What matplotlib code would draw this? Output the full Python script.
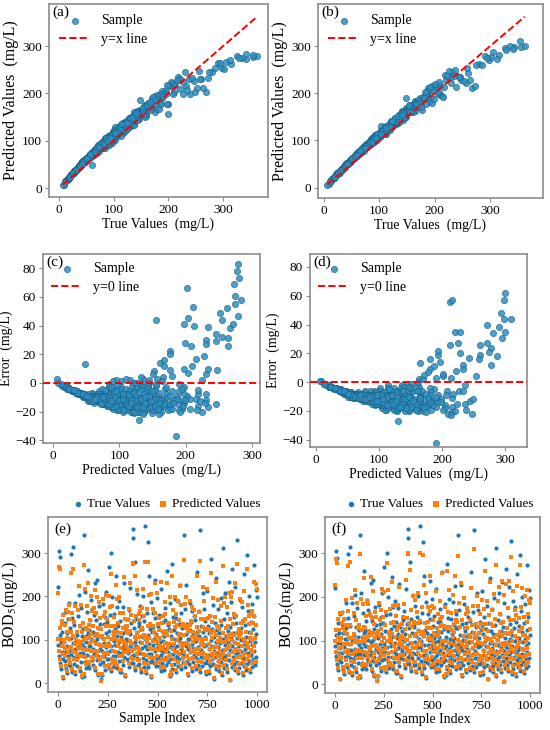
import numpy as np
import matplotlib
matplotlib.use("Agg")
import matplotlib.pyplot as plt

plt.rcParams["font.family"] = ["Liberation Serif", "DejaVu Serif"]
plt.rcParams["mathtext.fontset"] = "stix"

# true BOD5 values of the test samples (mg/L), in sample order
true_vals = [
    221, 88, 305, 64, 112, 47, 290, 95, 33, 140, 72, 118, 56, 12, 160, 84,
    94, 51, 138, 72, 165, 33, 117, 86, 23, 149, 62, 103, 185, 45, 128, 77,
    39, 104, 68, 298, 151, 27, 92, 315, 61, 134, 45, 78, 186, 22, 99, 58,
    58, 112, 40, 156, 81, 204, 66, 97, 29, 131, 70, 174, 48, 109, 14, 90,
    125, 70, 342, 17, 83, 210, 49, 108, 36, 95, 164, 66, 260, 41, 117, 87,
    123, 36, 87, 145, 60, 193, 101, 53, 170, 79, 119, 43, 158, 68, 232, 96,
    30, 146, 75, 53, 102, 239, 19, 127, 62, 90, 178, 44, 136, 80, 9, 110,
    18, 106, 75, 182, 49, 137, 92, 64, 153, 31, 115, 84, 210, 56, 141, 72,
    57, 93, 268, 35, 121, 74, 158, 28, 301, 86, 48, 199, 63, 114, 38, 97,
    99, 160, 41, 127, 88, 246, 62, 108, 35, 176, 73, 133, 52, 95, 190, 25,
    143, 69, 25, 106, 82, 52, 175, 115, 42, 230, 89, 60, 131, 16, 101, 77,
    80, 121, 57, 147, 69, 100, 168, 38, 114, 86, 219, 47, 139, 76, 91, 63,
    335, 355, 46, 128, 66, 94, 280, 31, 149, 85, 59, 118, 205, 72, 43, 138,
    132, 44, 96, 179, 70, 110, 27, 155, 82, 124, 59, 202, 104, 37, 143, 85,
    362, 100, 54, 24, 163, 79, 326, 111, 37, 91, 248, 67, 124, 50, 14, 188,
    67, 118, 52, 162, 89, 130, 46, 101, 237, 74, 150, 39, 113, 92, 196, 55,
    83, 133, 61, 105, 40, 157, 76, 96, 29, 217, 65, 120, 47, 142, 98, 71,
    108, 30, 146, 78, 173, 61, 120, 43, 93, 258, 135, 71, 50, 126, 83, 16,
    56, 184, 21, 109, 88, 275, 34, 152, 68, 123, 44, 81, 195, 58, 103, 26,
    150, 87, 64, 115, 41, 189, 98, 136, 55, 105, 226, 79, 162, 34, 128, 69,
    129, 73, 48, 341, 93, 62, 170, 37, 113, 86, 227, 51, 137, 78, 18, 102,
    45, 102, 184, 73, 122, 58, 141, 90, 28, 167, 81, 111, 49, 154, 65, 97,
    64, 145, 32, 97, 256, 55, 119, 84, 42, 166, 70, 108, 27, 354, 90, 60,
    76, 131, 39, 93, 208, 60, 118, 85, 171, 47, 107, 143, 22, 88, 125, 54,
    213, 46, 132, 79, 23, 115, 66, 154, 39, 99, 286, 57, 126, 87, 45, 180,
    74, 11, 107, 61, 140, 33, 94, 243, 69, 122, 52, 172, 84, 28, 116, 41,
    92, 65, 197, 48, 135, 77, 19, 312, 101, 58, 148, 35, 89, 208, 63, 110,
    43, 161, 82, 27, 121, 68, 95, 234, 54, 130, 7, 76, 187, 105, 38, 85,
    264, 60, 117, 44, 96, 153, 30, 80, 222, 67, 138, 50, 104, 329, 73, 24,
    112, 87, 36, 191, 63, 128, 47, 99, 176, 71, 20, 143, 56, 252, 91, 40,
    79, 134, 59, 106, 31, 295, 83, 45, 167, 69, 119, 200, 52, 97, 26, 141,
    66, 103, 183, 38, 88, 57, 124, 272, 74, 155, 42, 94, 215, 61, 113, 198,
]

# error = true - predicted, model of panels (a)/(c)/(e)
err_a = [
    12, -13, 38, -11, -16, -9, 26, -8, -7, -4, -14, -19, -12, -2, 3, -10,
    -5, -13, 3, -9, -4, -8, -2, -18, -6, -15, -11, 1, 5, -12, -21, -7,
    -8, -15, -13, 44, -11, -6, -17, 52, -10, -7, -11, -12, 9, -5, -3, -14,
    -8, -7, -13, -12, -3, -20, -16, 2, -6, -1, -17, -6, -14, -10, -2, -4,
    -13, -9, 69, -4, -16, -8, -12, -20, -9, -10, -14, -11, 30, -8, -6, -18,
    -11, -10, -5, 0, -15, -9, -12, -8, 4, -19, -14, -12, -16, -7, 17, -13,
    -6, -17, -15, -10, -12, 41, -3, 0, -13, -19, -9, -10, -15, -8, 3, -14,
    -3, -4, -12, -13, -11, -17, -9, -6, -11, -8, -16, -1, 7, -13, -8, -18,
    -11, -14, 66, -7, -10, -13, -18, -6, 49, -16, -9, 22, -12, -18, -8, -11,
    -20, 8, -10, -4, -14, 19, -9, -11, -7, -18, -13, -7, -12, -2, -8, -6,
    -20, -12, -6, -9, -17, -10, 14, -13, -9, -15, -7, -11, -18, -3, -21, -14,
    -7, -12, -14, 2, -10, -15, -3, -9, -6, -11, -12, -11, -19, -16, 1, -12,
    61, 78, -10, -16, -14, -12, 34, -7, -5, -18, -9, 2, -11, -10, -11, -22,
    -14, -9, -10, 12, -4, -13, -5, -19, -11, -3, -9, -16, -7, -10, -13, -20,
    83, -10, -12, -5, -8, -15, 47, -20, -8, -13, 45, -16, -12, -10, -3, -18,
    -11, -15, -7, -10, -9, -2, -13, -17, 6, -5, -12, -8, 3, -14, -11, -9,
    -13, -3, -15, -17, -9, 6, -11, -9, -6, -17, -13, -19, -8, -14, -20, -12,
    -6, -8, -14, -15, -15, -12, 0, -11, -18, 27, -5, -10, -9, -12, -7, -3,
    -9, -14, -4, -11, -15, 29, -8, -16, -12, -18, -11, -9, -3, -13, -26, -5,
    -9, -12, -8, -19, -9, -1, -14, -10, -12, -8, 2, -13, -18, -7, -5, -15,
    -8, -16, -11, 58, -19, -10, -12, -9, -14, -6, 28, -12, 4, -13, -4, -16,
    -12, -20, -6, -11, -13, -13, -2, -16, -7, -9, -14, -8, -10, -15, -9, -4,
    -14, -11, -7, -15, 9, -13, -10, -18, -10, 1, -9, -13, -6, 73, -12, -8,
    -14, -17, -10, -7, -13, -10, -11, -3, -19, -11, -15, -6, -5, -13, 0, -12,
    -5, -12, -19, -11, -5, -7, -13, -2, -9, -16, 32, -10, -15, -17, -13, -16,
    -10, -1, -13, -9, -12, -8, -17, 10, -15, -11, -11, -20, -14, -7, -9, -10,
    -13, -10, 20, -12, -9, -19, -4, 41, -14, -9, -37, -8, -6, 10, -14, -17,
    -11, -15, -18, -6, -11, -14, -13, 26, -11, -17, 0, -12, -12, -9, -9, -15,
    53, -13, -20, -9, -15, -7, -6, -12, -8, -11, -16, -11, -13, 55, -17, -5,
    -12, -19, -8, -4, -12, -10, -13, -16, -11, -14, -4, 0, -10, 40, -11, -9,
    -16, -13, -11, -12, -7, 31, -10, -10, -14, -15, -17, 44, -11, -8, -5, -18,
    -10, -14, 16, -8, -12, -15, -14, 39, -13, -1, -9, -11, -14, 13, -22, -19,
]

# error = true - predicted, model of panels (b)/(d)/(f)
err_b = [
    -6, -10, 18, -9, -13, -8, 12, -14, -5, -9, -12, -7, -10, -1, -3, -15,
    -11, -9, -3, -14, 2, -7, -12, -6, -5, -1, -13, -17, -9, -10, -8, -16,
    -6, -11, -10, 27, -16, -4, -13, 34, -8, -2, -9, -15, -12, -3, -8, -11,
    -12, -2, -10, -7, -15, -11, -8, -4, -5, -16, -9, -13, -11, -20, -1, -7,
    -10, -7, 44, -3, -13, 14, -10, -17, -7, -12, -19, -9, 17, -6, -14, -11,
    -6, -8, -18, -12, -11, 3, -9, -10, -13, -6, -4, -9, -2, -12, -13, -17,
    -5, -6, -12, -8, -16, 26, -2, -11, -10, -15, 13, -7, -18, -9, 1, -4,
    -2, -15, -9, -5, -8, -10, -19, -13, -16, -6, -11, -12, -8, -10, -14, -6,
    -9, -12, 56, -5, -15, -10, -8, -4, 24, -13, -7, -17, -9, -6, -6, -14,
    -8, -12, -7, -14, -10, 12, -11, -6, -6, -4, -15, -9, -9, -13, 9, -5,
    -14, -10, -5, -18, -11, -9, -7, -16, -8, 8, -13, -8, -4, -2, -10, -12,
    -14, -18, -10, -6, -13, -7, -15, -7, -12, -16, -19, -8, -12, -9, -11, -10,
    35, 57, -8, -12, -11, -17, 19, -6, -20, -9, -7, -14, 4, -12, -9, -5,
    -8, -7, -15, -14, -12, -5, -4, -10, -8, -17, -12, -6, -19, -8, -1, -13,
    62, -14, -10, -4, -15, -11, 31, -9, -7, -19, 20, -10, -16, -8, -2, -22,
    -9, -10, -11, -16, -14, -13, -9, -7, -12, -10, -17, -6, -15, -12, 16, -8,
    -11, -15, -12, -13, -7, -17, -9, -16, -5, 3, -10, -8, -7, -20, -12, -11,
    -12, -6, -4, -11, -17, -9, -13, -9, -6, 4, -18, -13, -8, -7, -15, -2,
    -8, 7, -3, -19, -12, 16, -6, -13, -9, -8, -9, -14, -21, -11, -27, -4,
    -13, -8, -12, -9, -8, -16, -11, -3, -10, -14, -22, -11, -6, -6, -20, -12,
    -13, -11, -9, 48, -8, -12, -16, -7, -18, -10, -6, -10, -11, -15, -3, -9,
    -10, -9, -14, -13, -7, -11, -19, -10, -5, -8, -9, -18, -8, -11, -12, -15,
    -11, -3, -6, -11, 35, -10, -17, -12, -8, -14, -13, -9, -5, 44, -16, -9,
    -11, -6, -8, -16, 6, -9, -14, -12, -9, -9, -10, -17, -4, -7, -12, -10,
    19, -9, -6, -13, -4, -12, -11, -18, -7, -10, 26, -8, -12, -14, -10, -10,
    -12, -1, -16, -11, -19, -6, -9, 9, -10, -15, -9, 2, -12, -5, -17, -8,
    -16, -8, -9, -10, -14, -12, -3, 40, -11, -11, -42, -7, -13, -15, -12, -10,
    -9, 0, -10, -5, -20, -11, -15, -2, -9, -12, 1, -14, -18, -13, -7, -9,
    35, -10, -11, -8, -18, -21, -5, -13, -15, -9, -10, -9, -14, 38, -11, -4,
    -9, -13, -6, -23, -10, -19, -10, -12, 5, -11, -3, -15, -9, 27, -14, -7,
    -10, -17, -9, -15, -6, 21, -13, -8, -11, -12, -10, -20, -10, -16, -4, -13,
    -12, -10, -19, -6, -9, -11, -18, 57, -10, -6, -8, -12, 22, -9, -13, 11,
]

true_vals = np.array(true_vals, dtype=float)
err_a = np.array(err_a, dtype=float)
err_b = np.array(err_b, dtype=float)
pred_a = true_vals - err_a
pred_b = true_vals - err_b
sample_index = np.linspace(0, 999, len(true_vals)).round()

PT_COLOR = "#2b8fc0"
PT_EDGE = "#1d5f85"
SPINE = "#8c8c8c"

fig = plt.figure(figsize=(5.5, 7.3), dpi=100)
W, H = 550.0, 730.0


def box(l, t, r, b):
    return fig.add_axes([l / W, 1 - b / H, (r - l) / W, (b - t) / H])


def style(ax):
    for s in ax.spines.values():
        s.set_color(SPINE)
        s.set_linewidth(1.2)
    ax.tick_params(labelcolor="black", labelsize=9.5, length=3, width=0.8,
                   color=SPINE, pad=2)


def top_legend(ax, pad_top):
    ax.legend(loc="upper left", bbox_to_anchor=(0.0, 1.0), frameon=False,
              fontsize=10, handletextpad=0.8, handlelength=2.2,
              borderaxespad=0.2, borderpad=pad_top, labelspacing=0.4)


def parity(ax, pred, tag, xlim, ylim):
    ax.scatter(true_vals, pred, s=20, c=PT_COLOR, edgecolors=PT_EDGE,
               linewidths=0.5, alpha=0.85, label="Sample", zorder=2)
    lo, hi = true_vals.min(), true_vals.max()
    ax.plot([lo, hi], [lo, hi], "r--", lw=1.4, label="y=x line", zorder=3)
    ax.set_xlabel("True Values  (mg/L)", fontsize=10, labelpad=1)
    ax.set_ylabel("Predicted Values  (mg/L)", fontsize=11.5, labelpad=2)
    ax.set_xticks([0, 100, 200, 300])
    ax.set_yticks([0, 100, 200, 300])
    ax.set_xlim(*xlim)
    ax.set_ylim(*ylim)
    top_legend(ax, 0.55)
    ax.text(0.015, 0.99, tag, transform=ax.transAxes, ha="left", va="top",
            fontsize=11)
    style(ax)


def residual(ax, pred, err, tag, xlim, ylim):
    ax.scatter(pred, err, s=20, c=PT_COLOR, edgecolors=PT_EDGE,
               linewidths=0.5, alpha=0.85, label="Sample", zorder=2)
    ax.axhline(0, color="red", ls="--", lw=1.4, label="y=0 line", zorder=3)
    ax.set_xlabel("Predicted Values  (mg/L)", fontsize=10, labelpad=1)
    ax.set_ylabel("Error  (mg/L)", fontsize=10, labelpad=2)
    ax.set_xticks([0, 100, 200, 300])
    ax.set_yticks([-40, -20, 0, 20, 40, 60, 80])
    ax.set_xlim(*xlim)
    ax.set_ylim(*ylim)
    top_legend(ax, 0.4)
    ax.text(0.015, 0.99, tag, transform=ax.transAxes, ha="left", va="top",
            fontsize=11)
    style(ax)


def series(ax, pred, tag):
    ax.scatter(sample_index, true_vals, s=9, c="#1f77b4", marker="o",
               label="True Values", zorder=2, linewidths=0)
    ax.scatter(sample_index, pred, s=9, c="#ff7f0e", marker="s",
               label="Predicted Values", zorder=3, linewidths=0)
    ax.set_xlabel("Sample Index", fontsize=10, labelpad=1)
    ax.set_ylabel("BOD$_5$(mg/L)", fontsize=11.5, labelpad=1)
    ax.set_xticks([0, 250, 500, 750, 1000])
    ax.set_yticks([0, 100, 200, 300])
    ax.set_xlim(-50, 1050)
    ax.set_ylim(-20, 383)
    ax.legend(loc="lower right", bbox_to_anchor=(1.0, 1.0), ncol=2,
              frameon=False, fontsize=9.5, handletextpad=0.25,
              handlelength=0.8, columnspacing=0.6, markerscale=1.3,
              borderaxespad=0.1)
    ax.text(0.03, 0.97, tag, transform=ax.transAxes, ha="left", va="top",
            fontsize=11)
    style(ax)


ax_a = box(49, 4, 268, 197)
ax_b = box(318, 4, 543, 198)
ax_c = box(43, 254, 260, 443)
ax_d = box(310, 254, 527, 447)
ax_e = box(48, 517, 267, 692)
ax_f = box(325, 517, 540, 693)

parity(ax_a, pred_a, "(a)", (-18, 382), (-19, 389))
parity(ax_b, pred_b, "(b)", (-10, 395), (-22, 389))
residual(ax_c, pred_a, err_a, "(c)", (-15, 312), (-42, 90))
residual(ax_d, pred_b, err_b, "(d)", (-10, 335), (-45, 89))
series(ax_e, pred_a, "(e)")
series(ax_f, pred_b, "(f)")

fig.savefig("out.png", dpi=100)
